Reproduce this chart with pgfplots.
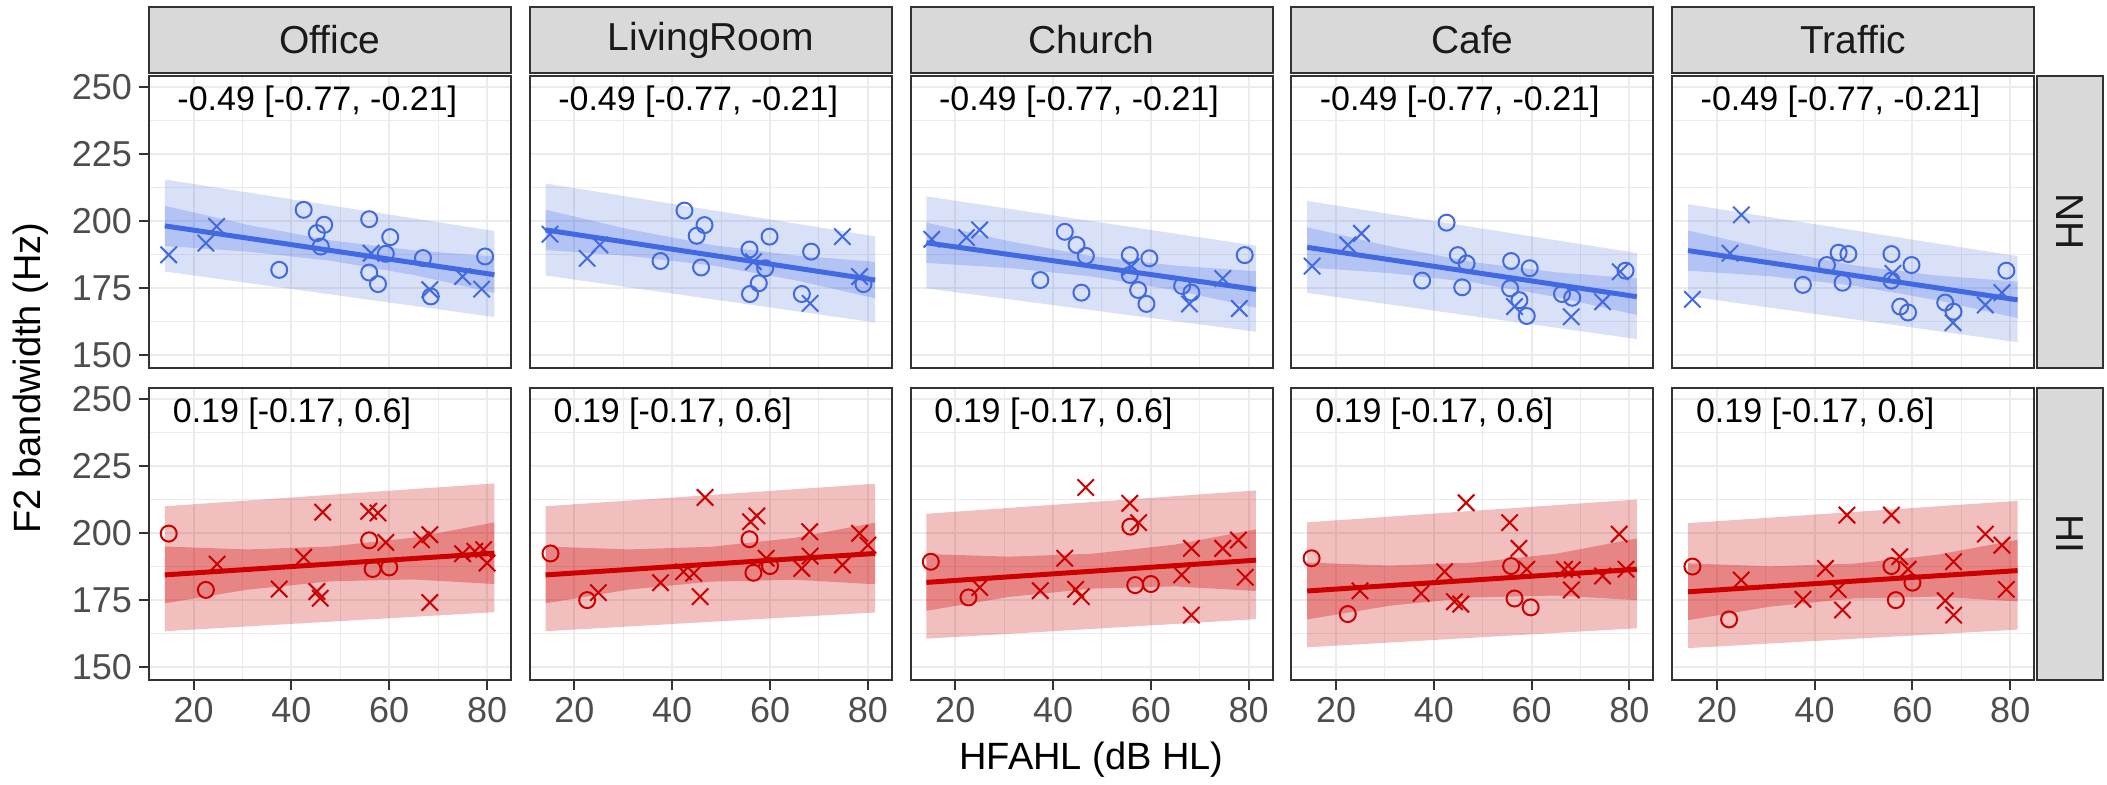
\documentclass[border=0pt]{standalone}
\usepackage{pgfplots}
\pgfplotsset{compat=1.18}
\usepackage{fontspec}
\setmainfont{Liberation Sans}
\definecolor{nhc}{RGB}{65,105,225}
\definecolor{hic}{RGB}{205,0,0}
\definecolor{gridc}{RGB}{235,235,235}
\definecolor{bordc}{RGB}{51,51,51}
\definecolor{stripc}{RGB}{217,217,217}
\definecolor{tickc}{RGB}{77,77,77}
\definecolor{txtc}{RGB}{26,26,26}
\pgfplotsset{
  panel/.style={
    scale only axis, width=181pt, height=146pt,
    xmin=10.87, xmax=84.9, ymin=145.3, ymax=254.2,
    xtick={20,40,60,80}, ytick={150,175,200,225,250},
    minor xtick={30,50,70}, minor ytick={162.5,187.5,212.5,237.5},
    grid=both,
    major grid style={draw=gridc, line width=1pt},
    minor grid style={draw=gridc, line width=0.5pt},
    axis line style={draw=bordc, line width=1pt},
    tick align=outside, major tick length=5pt, minor tick length=0pt,
    xtick pos=left, ytick pos=left,
    tick style={draw=bordc, line width=1pt},
    ticklabel style={font=\fontsize{18}{18}\selectfont, text=tickc},
    /pgf/number format/assume math mode=true,
    anchor=south west,
  },
  nox/.style={xticklabels={}, xtick style={draw=none}},
  noy/.style={yticklabels={}, ytick style={draw=none}},
  outerNH/.style={draw=none, fill=nhc, fill opacity=0.2},
  innerNH/.style={draw=none, fill=nhc, fill opacity=0.25},
  outerHI/.style={draw=none, fill=hic, fill opacity=0.25},
  innerHI/.style={draw=none, fill=hic, fill opacity=0.3},
  ptsO/.style={only marks, mark=o, mark size=4pt, mark options={line width=1pt}},
  ptsX/.style={only marks, mark=x, mark size=5.8pt, mark options={line width=1pt}},
}
\newcommand{\nhtxt}{\node[font=\fontsize{17}{17}\selectfont] at (axis cs:45.3,244.6) {-0.49 [-0.77, -0.21]};}
\newcommand{\hitxt}{\node[font=\fontsize{17}{17}\selectfont] at (axis cs:40.1,244.8) {0.19 [-0.17, 0.6]};}
\begin{document}
\begin{tikzpicture}
\useasboundingbox (0,0) rectangle (1053.5pt,392pt);

% ---------------- NH row ----------------
\begin{axis}[panel, nox, at={(74.5pt,208pt)}]
\addplot[outerNH] coordinates {(14.1,181.3) (81.5,164.3) (81.5,196.4) (14.1,215.6)};
\addplot[innerNH] coordinates {(14.1,190.8) (31,188.7) (48,185.3) (65,180.0) (81.5,173.3) (81.5,186.9) (65,189.2) (48,192.9) (31,198.7) (14.1,205.8)};
\addplot[nhc, line width=2.5pt] coordinates {(14.1,198.3) (81.5,180.1)};
\addplot[nhc, ptsO] coordinates {(37.5,181.9) (42.5,204.3) (45.2,195.6) (46.7,198.7) (46.0,190.6) (55.9,200.8) (55.9,180.9) (57.7,176.6) (60.2,194.1) (59.3,187.9) (66.9,186.3) (68.5,172.0) (79.6,186.9)};
\addplot[nhc, ptsX] coordinates {(14.9,187.5) (22.5,191.9) (24.7,198.1) (56.3,188.1) (68.3,174.5) (75.0,179.4) (78.9,174.7)};
\nhtxt
\end{axis}

\begin{axis}[panel, nox, noy, at={(264.9pt,208pt)}]
\addplot[outerNH] coordinates {(14.1,179.8) (81.5,162.3) (81.5,194.4) (14.1,214.1)};
\addplot[innerNH] coordinates {(14.1,189.3) (31,187.1) (48,183.6) (65,178.1) (81.5,171.3) (81.5,184.9) (65,187.3) (48,191.2) (31,197.1) (14.1,204.3)};
\addplot[nhc, line width=2.5pt] coordinates {(14.1,196.8) (81.5,178.1)};
\addplot[nhc, ptsO] coordinates {(37.6,185.2) (42.5,204.0) (46.6,198.6) (45.0,194.6) (45.9,182.8) (55.8,189.5) (59.0,182.5) (59.9,194.3) (57.7,176.9) (55.9,172.9) (68.4,188.7) (66.5,172.9) (79.1,176.6)};
\addplot[nhc, ptsX] coordinates {(15.0,195.2) (22.6,186.2) (25.2,191.2) (56.6,184.9) (68.2,169.4) (74.8,194.3) (78.3,179.4)};
\nhtxt
\end{axis}

\begin{axis}[panel, nox, noy, at={(455.3pt,208pt)}]
\addplot[outerNH] coordinates {(14.1,175.0) (81.5,158.8) (81.5,190.9) (14.1,209.3)};
\addplot[innerNH] coordinates {(14.1,184.5) (31,182.6) (48,179.4) (65,174.3) (81.5,167.8) (81.5,181.4) (65,183.5) (48,187.0) (31,192.6) (14.1,199.5)};
\addplot[nhc, line width=2.5pt] coordinates {(14.1,192.0) (81.5,174.6)};
\addplot[nhc, ptsO] coordinates {(42.4,196.1) (44.8,191.2) (46.7,187.1) (37.4,178.1) (45.8,173.4) (55.7,187.4) (59.7,186.2) (55.7,180.0) (57.4,174.4) (59.1,169.2) (66.4,175.9) (68.3,173.4) (79.2,187.4)};
\addplot[nhc, ptsX] coordinates {(15.2,193.3) (22.3,194.0) (25.0,196.8) (56.0,183.1) (67.9,169.2) (74.7,178.7) (78.1,167.5)};
\nhtxt
\end{axis}

\begin{axis}[panel, nox, noy, at={(645.7pt,208pt)}]
\addplot[outerNH] coordinates {(14.1,173.3) (81.5,156.1) (81.5,188.2) (14.1,207.6)};
\addplot[innerNH] coordinates {(14.1,182.8) (31,180.7) (48,177.2) (65,171.8) (81.5,165.1) (81.5,178.7) (65,181.0) (48,184.8) (31,190.7) (14.1,197.8)};
\addplot[nhc, line width=2.5pt] coordinates {(14.1,190.3) (81.5,171.9)};
\addplot[nhc, ptsO] coordinates {(37.6,177.9) (42.6,199.5) (44.9,187.4) (46.7,184.3) (45.8,175.4) (55.8,185.2) (59.6,182.5) (55.6,175.0) (57.5,170.6) (59.0,164.7) (66.2,172.9) (68.3,171.5) (79.2,181.6)};
\addplot[nhc, ptsX] coordinates {(15.1,183.3) (22.4,191.2) (25.2,195.5) (56.5,168.2) (68.1,164.4) (74.5,170.0) (78.1,181.2)};
\nhtxt
\end{axis}

\begin{axis}[panel, nox, noy, at={(836.1pt,208pt)}]
\addplot[outerNH] coordinates {(14.1,172.1) (81.5,154.9) (81.5,187.0) (14.1,206.4)};
\addplot[innerNH] coordinates {(14.1,181.6) (31,179.5) (48,176.0) (65,170.6) (81.5,163.9) (81.5,177.5) (65,179.8) (48,183.6) (31,189.5) (14.1,196.6)};
\addplot[nhc, line width=2.5pt] coordinates {(14.1,189.1) (81.5,170.7)};
\addplot[nhc, ptsO] coordinates {(37.6,176.3) (42.5,183.7) (44.9,188.3) (46.9,187.8) (45.7,177.1) (55.7,187.8) (55.7,177.9) (59.8,183.7) (57.5,168.2) (59.1,166.0) (66.7,169.7) (68.4,166.3) (79.2,181.6)};
\addplot[nhc, ptsX] coordinates {(15.0,170.9) (22.7,188.1) (25.0,202.4) (56.0,180.6) (68.3,162.2) (74.9,168.8) (78.3,173.4)};
\nhtxt
\end{axis}

% ---------------- HI row ----------------
\begin{axis}[panel, at={(74.5pt,52pt)}]
\addplot[outerHI] coordinates {(14.1,163.5) (81.5,170.6) (81.5,218.6) (14.1,210.1)};
\addplot[innerHI] coordinates {(14.1,173.9) (31,179.0) (48,182.1) (65,182.8) (81.5,181.1) (81.5,204.1) (65,198.4) (48,195.1) (31,194.0) (14.1,195.1)};
\addplot[hic, line width=2.5pt] coordinates {(14.1,184.5) (81.5,192.6)};
\addplot[hic, ptsO] coordinates {(14.9,199.9) (22.5,178.9) (55.9,197.4) (56.6,186.7) (60.0,187.3)};
\addplot[hic, ptsX] coordinates {(24.8,188.5) (37.5,179.2) (42.5,191.1) (46.4,207.9) (45.2,178.3) (45.9,175.8) (55.8,208.2) (57.7,207.6) (59.3,196.6) (66.6,197.6) (68.3,199.5) (68.3,174.2) (75.0,192.4) (77.5,193.3) (79.3,193.9) (80.0,188.9)};
\hitxt
\end{axis}

\begin{axis}[panel, noy, at={(264.9pt,52pt)}]
\addplot[outerHI] coordinates {(14.1,163.5) (81.5,170.5) (81.5,218.5) (14.1,210.1)};
\addplot[innerHI] coordinates {(14.1,173.9) (31,179.0) (48,182.0) (65,182.7) (81.5,181.0) (81.5,204.0) (65,198.3) (48,195.0) (31,194.0) (14.1,195.1)};
\addplot[hic, line width=2.5pt] coordinates {(14.1,184.5) (81.5,192.5)};
\addplot[hic, ptsO] coordinates {(15.1,192.5) (22.6,175.1) (55.8,197.8) (56.6,185.3) (60.0,187.8)};
\addplot[hic, ptsX] coordinates {(24.9,177.9) (37.6,181.6) (42.3,185.7) (44.4,185.1) (45.7,176.4) (46.7,213.4) (56.0,204.3) (57.3,206.5) (59.2,190.7) (68.1,200.6) (66.5,186.9) (68.2,191.5) (74.8,188.2) (78.3,200.0) (80.0,195.6)};
\hitxt
\end{axis}

\begin{axis}[panel, noy, at={(455.3pt,52pt)}]
\addplot[outerHI] coordinates {(14.1,160.7) (81.5,168.0) (81.5,216.0) (14.1,207.3)};
\addplot[innerHI] coordinates {(14.1,171.1) (31,176.3) (48,179.4) (65,180.2) (81.5,178.5) (81.5,201.5) (65,195.8) (48,192.4) (31,191.3) (14.1,192.3)};
\addplot[hic, line width=2.5pt] coordinates {(14.1,181.7) (81.5,190.0)};
\addplot[hic, ptsO] coordinates {(15.0,189.4) (22.7,176.1) (55.8,202.5) (56.8,180.7) (60.0,181.1)};
\addplot[hic, ptsX] coordinates {(25.0,179.8) (37.4,178.6) (42.4,190.7) (44.6,179.1) (45.8,176.4) (46.7,217.1) (55.7,211.2) (57.5,204.0) (68.3,194.4) (66.3,184.5) (68.3,169.5) (74.7,194.4) (77.9,197.5) (79.3,183.6)};
\hitxt
\end{axis}

\begin{axis}[panel, noy, at={(645.7pt,52pt)}]
\addplot[outerHI] coordinates {(14.1,157.5) (81.5,164.6) (81.5,212.6) (14.1,204.1)};
\addplot[innerHI] coordinates {(14.1,167.9) (31,173.0) (48,176.1) (65,176.8) (81.5,175.1) (81.5,198.1) (65,192.4) (48,189.1) (31,188.0) (14.1,189.1)};
\addplot[hic, line width=2.5pt] coordinates {(14.1,178.5) (81.5,186.6)};
\addplot[hic, ptsO] coordinates {(15.0,190.7) (22.4,169.9) (55.8,187.8) (56.5,175.7) (59.8,172.4)};
\addplot[hic, ptsX] coordinates {(24.9,178.6) (37.4,177.6) (42.2,185.7) (44.2,174.5) (45.5,173.6) (46.6,211.4) (55.5,204.0) (57.4,194.4) (59.0,186.6) (66.7,186.6) (68.3,186.4) (68.1,178.9) (74.5,184.1) (77.9,199.7) (79.3,186.6)};
\hitxt
\end{axis}

\begin{axis}[panel, noy, at={(836.1pt,52pt)}]
\addplot[outerHI] coordinates {(14.1,157.2) (81.5,164.1) (81.5,212.1) (14.1,203.8)};
\addplot[innerHI] coordinates {(14.1,167.6) (31,172.7) (48,175.7) (65,176.4) (81.5,174.6) (81.5,197.6) (65,192.0) (48,188.7) (31,187.7) (14.1,188.8)};
\addplot[hic, line width=2.5pt] coordinates {(14.1,178.2) (81.5,186.1)};
\addplot[hic, ptsO] coordinates {(15.0,187.6) (22.5,167.9) (55.7,187.8) (60.0,181.6) (56.6,175.1)};
\addplot[hic, ptsX] coordinates {(25.0,182.6) (37.6,175.4) (42.2,186.9) (44.8,179.1) (45.7,171.4) (46.6,206.8) (55.7,206.8) (57.4,191.3) (59.1,186.6) (68.4,189.4) (66.7,174.9) (68.4,169.5) (74.9,199.7) (78.3,195.6) (79.2,179.1)};
\hitxt
\end{axis}

% ---------------- strips ----------------
\foreach \xl/\lab in {74.5/Office, 264.9/LivingRoom, 455.3/Church, 645.7/Cafe, 836.1/Traffic} {
  \draw[fill=stripc, draw=bordc, line width=1pt] (\xl pt,355.5pt) rectangle ++(181pt,33pt);
  \node[font=\fontsize{19.5}{19.5}\selectfont, text=txtc] at (\xl pt+90.5pt,372pt) {\lab};
}
\draw[fill=stripc, draw=bordc, line width=1pt] (1018.5pt,208pt) rectangle (1051.5pt,354pt);
\node[rotate=-90, font=\fontsize{19.5}{19.5}\selectfont, text=txtc] at (1035pt,281pt) {NH};
\draw[fill=stripc, draw=bordc, line width=1pt] (1018.5pt,52pt) rectangle (1051.5pt,198pt);
\node[rotate=-90, font=\fontsize{19.5}{19.5}\selectfont, text=txtc] at (1035pt,125pt) {HI};

% axis titles
\node[rotate=90, font=\fontsize{19}{19}\selectfont] at (15.5pt,203pt) {F2 bandwidth (Hz)};
\node[font=\fontsize{19}{19}\selectfont] at (545.75pt,12pt) {HFAHL (dB HL)};
\end{tikzpicture}
\end{document}
